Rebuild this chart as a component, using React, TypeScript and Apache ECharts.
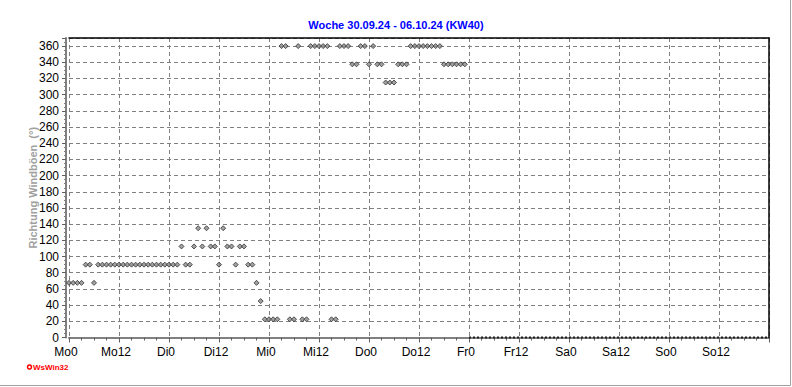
import React, { useEffect, useRef } from "react";
import * as echarts from "echarts";

const TITLE = "Woche 30.09.24 - 06.10.24 (KW40)";
const Y_NAME = "Richtung Windböen  (°)";
const FOOTER = "WsWin32";
const DAY_NAMES = ["Mo", "Di", "Mi", "Do", "Fr", "Sa", "So"];
const WEEK_HOURS = 168;
const LABEL_STEP_HOURS = 12;
const Y_TICK_STEP = 20;
const Y_MAX = 370;

// hourly gust direction (deg), starting Monday 0:00
const gustDirection = [
  // Mo
  67.5, 67.5, 67.5, 67.5, 90, 90, 67.5, 90, 90, 90, 90, 90, 90, 90, 90, 90, 90, 90, 90, 90, 90, 90, 90, 90,
  // Di
  90, 90, 90, 112.5, 90, 90, 112.5, 135, 112.5, 135, 112.5, 112.5, 90, 135, 112.5, 112.5, 90, 112.5, 112.5, 90, 90, 67.5, 45, 22.5,
  // Mi
  22.5, 22.5, 22.5, 360, 360, 22.5, 22.5, 360, 22.5, 22.5, 360, 360, 360, 360, 360, 22.5, 22.5, 360, 360, 360, 337.5, 337.5, 360, 360,
  // Do
  337.5, 360, 337.5, 337.5, 315, 315, 315, 337.5, 337.5, 337.5, 360, 360, 360, 360, 360, 360, 360, 360, 337.5, 337.5, 337.5, 337.5, 337.5, 337.5,
];

// hours without data (drawn as dotted baseline)
const noDataHours = [96, 168];
const noDataValue = [0, 0];

const FONT = "'Liberation Sans', Arial, sans-serif";

export default function App() {
  const ref = useRef<HTMLDivElement>(null);

  useEffect(() => {
    if (!ref.current) return;
    const chart = echarts.init(ref.current, null, { renderer: "svg" });
    const points = gustDirection.map((v, i) => [i, v]);
    const noData = noDataHours.map((h, i) => [h, noDataValue[i]]);
    const option: any = {
      animation: false,
      backgroundColor: "#ffffff",
      textStyle: { fontFamily: FONT },
      title: {
        text: TITLE,
        left: "center",
        top: 14,
        textStyle: { color: "#0000ff", fontSize: 11, fontWeight: "bold", fontFamily: FONT },
      },
      grid: { left: 69, right: 23, top: 38, bottom: 49.5 },
      xAxis: [
        {
          type: "value",
          min: 0,
          max: WEEK_HOURS,
          interval: LABEL_STEP_HOURS,
          axisLine: { onZero: false, lineStyle: { color: "#808080", width: 2 } },
          axisTick: { show: true, length: 5, lineStyle: { color: "#606060" } },
          minorTick: { show: true, splitNumber: 4, length: 3, lineStyle: { color: "#606060" } },
          axisLabel: {
            color: "#000",
            fontSize: 12,
            fontFamily: FONT,
            margin: 8,
            padding: [0, 6, 0, 0],
            formatter: (v: number) =>
              v >= WEEK_HOURS ? "" : DAY_NAMES[Math.floor(v / 24)] + (v % 24),
          },
          splitLine: { show: true, lineStyle: { color: "#808080", type: [4, 3], width: 1 } },
        },
        {
          type: "value",
          position: "top",
          min: 0,
          max: WEEK_HOURS,
          z: 5,
          axisLine: { show: true, onZero: false, lineStyle: { color: "#000", width: 1.5 } },
          axisTick: { show: false },
          axisLabel: { show: false },
          splitLine: { show: false },
        },
      ],
      yAxis: [
        {
          type: "value",
          min: 0,
          max: Y_MAX,
          interval: Y_TICK_STEP,
          offset: 3,
          name: Y_NAME,
          nameLocation: "middle",
          nameGap: 28,
          nameMoveOverlap: false,
          nameTextStyle: { color: "#a0a0a0", fontSize: 11, fontWeight: "bold", fontFamily: FONT },
          axisLine: { show: true, onZero: false, lineStyle: { color: "#808080", width: 2 } },
          axisTick: { show: true, length: 4, lineStyle: { color: "#606060" } },
          minorTick: { show: true, splitNumber: 4, length: 2, lineStyle: { color: "#808080" } },
          axisLabel: {
            color: "#000",
            fontSize: 12,
            fontFamily: FONT,
            margin: 7,
            formatter: (v: number) => (v % Y_TICK_STEP === 0 ? String(v) : ""),
          },
          splitLine: { show: true, lineStyle: { color: "#808080", type: [4, 3], width: 1 } },
        },
        {
          type: "value",
          position: "right",
          min: 0,
          max: Y_MAX,
          z: 5,
          axisLine: { show: true, onZero: false, lineStyle: { color: "#000", width: 1.5 } },
          axisTick: { show: false },
          axisLabel: { show: false },
          splitLine: { show: false },
        },
      ],
      series: [
        {
          type: "line",
          data: noData,
          clip: false,
          showSymbol: false,
          symbol: "none",
          lineStyle: { color: "#202020", width: 2, type: "dotted" },
          zlevel: 0,
          z: 10,
        },
        {
          type: "scatter",
          data: points,
          symbol: "diamond",
          symbolSize: 5,
          itemStyle: { color: "#8a8a8a", borderColor: "#303030", borderWidth: 1 },
          z: 4,
        },
      ],
      graphic: [
        {
          type: "circle",
          shape: { cx: 29.5, cy: 367, r: 2 },
          style: { fill: "#ffffff", stroke: "#ff0000", lineWidth: 1.5 },
        },
        {
          type: "text",
          x: 33,
          y: 367,
          style: {
            text: FOOTER,
            fill: "#ff0000",
            fontSize: 8,
            fontWeight: "bold",
            fontFamily: FONT,
            verticalAlign: "middle",
          },
        },
        {
          type: "polyline",
          shape: {
            points: [
              [0, 385.5],
              [790.5, 385.5],
              [790.5, 0],
            ],
          },
          style: { stroke: "#a0a0a0", lineWidth: 1, fill: "none" },
        },
      ],
    };
    chart.setOption(option);
    return () => chart.dispose();
  }, []);

  return (
    <div
      ref={ref}
      style={{ position: "fixed", left: 0, top: 0, width: 792, height: 387, background: "#fff" }}
    />
  );
}
